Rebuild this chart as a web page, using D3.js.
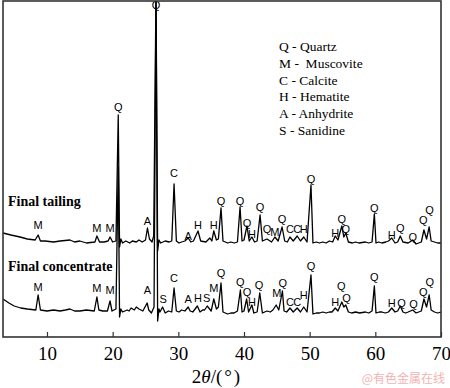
<!DOCTYPE html>
<html>
<head>
<meta charset="utf-8">
<script src="https://cdn.jsdelivr.net/npm/d3@7"></script>
<style>
  body { margin: 0; background: #fff; }
  svg { display: block; }
</style>
</head>
<body>
<div id="chart"></div>
<script>
// x ticks (2theta, degrees)
var xTicks = [10, 20, 30, 40, 50, 60, 70];

// legend lines
var legendItems = ["Q - Quartz", "M -  Muscovite", "C - Calcite", "H - Hematite", "A - Anhydrite", "S - Sanidine"];

// trace names
var seriesNames = ["Final tailing", "Final concentrate"];

// [2theta, intensity]
var tailing = [
  [3.3,104],[4.5,102],[5.9,100],[7.0,98],[8.2,97],[8.65,102],[9.0,96],[9.7,96],[11,95],[12,96],
  [13.5,97],[14.2,95],[15,96],[16,94],[17.3,95],[17.6,101],[18.0,95],[18.7,95],[19.3,96],[19.6,100],
  [20.0,95],[20.5,96],[20.85,222],[21.05,90],[21.25,98],[21.5,94],[22,96],[22.6,94],[23,96],[23.6,95],
  [24,97],[24.5,95],[25.0,97],[25.3,109],[25.6,98],[26.0,95],[26.25,101],[26.6,345],[26.85,86],
  [27.05,97],[27.3,94],[28,96],[28.6,95],[29.0,96],[29.35,153],[29.7,96],[30.1,94],[30.5,95],[31.0,96],
  [31.5,99],[31.9,95],[32.3,96],[33.0,106],[33.4,96],[34.2,95],[34.8,99],[35.1,96],[35.4,106],[35.8,97],
  [36.1,98],[36.5,129],[36.8,96],[37.5,94],[38.0,95],[38.5,94],[39.0,95],[39.4,130],[39.7,96],[40.0,97],
  [40.45,111],[40.8,96],[41.2,100],[41.6,95],[42.0,96],[42.45,122],[42.8,96],[43.5,98],[44.2,95],
  [44.7,100],[45.2,96],[45.8,110],[46.2,96],[46.6,95],[47.0,100],[47.5,96],[48.1,101],[48.6,96],
  [49.1,100],[49.6,95],[50.2,152],[50.5,94],[51.0,95],[51.5,94],[52.0,95],[52.5,94],[53.0,96],[53.5,95],
  [53.9,101],[54.3,97],[54.9,111],[55.2,100],[55.5,104],[55.9,95],[56.5,94],[57.0,95],[57.5,94],
  [58.5,95],[59.0,94],[59.5,95],[59.85,123],[60.1,94],[60.5,95],[61,94],[61.6,95],[62,96],[62.5,99],
  [63,94],[63.4,95],[63.8,101],[64.2,95],[65,94],[65.7,97],[66.2,93],[66.6,94],[67.0,95],[67.4,107],
  [67.8,98],[68.2,110],[68.5,96],[69,95],[69.5,94],[70,94]
];

var concentrate = [
  [3.3,38],[4.2,34],[5.0,31],[6.0,29],[7.0,28],[8.3,27],[8.65,42],[9.0,27],[10,26],[11,27],[12,26],
  [12.8,27],[13.5,28],[14.2,26],[15,26],[16,27],[17.2,26],[17.6,40],[17.9,27],[18.5,26],[19.2,26],
  [19.6,36],[19.9,26],[20.5,28],[20.85,170],[21.05,20],[21.25,28],[21.5,25],[22.2,27],[22.5,26],
  [22.8,29],[23.3,27],[23.6,30],[24,28],[24.6,26],[25.25,34],[25.5,27],[25.9,24],[26.3,30],[26.6,345],
  [26.85,16],[27.05,28],[27.2,25],[27.6,30],[28.0,24],[28.5,26],[29.0,25],[29.35,49],[29.7,26],
  [30.1,25],[30.5,27],[31.0,26],[31.5,30],[31.8,26],[32.2,25],[32.9,31],[33.3,25],[33.7,27],[34.0,27],
  [34.4,31],[35.0,26],[35.4,38],[35.8,28],[36.1,30],[36.5,54],[36.8,25],[37.5,23],[38.0,24],[38.5,24],
  [39.0,26],[39.45,47],[39.7,25],[40.0,26],[40.4,38],[40.7,25],[41.2,32],[41.5,24],[42.0,25],[42.4,44],
  [42.8,24],[43.5,26],[44.0,25],[44.4,27],[44.9,32],[45.3,27],[45.85,46],[46.1,26],[46.5,25],[47.0,29],
  [47.5,25],[48.1,29],[48.6,25],[49.1,30],[49.6,25],[50.2,62],[50.5,23],[51.0,24],[51.5,24],[52.0,25],
  [52.5,24],[53.0,25],[53.4,25],[53.9,29],[54.3,26],[54.9,35],[55.2,30],[55.5,32],[55.9,25],[56.4,24],
  [57,25],[57.6,24],[58.5,25],[59.0,24],[59.5,26],[59.85,51],[60.1,24],[60.6,25],[61,25],[61.5,24],
  [62.0,25],[62.5,29],[63,25],[63.4,26],[63.8,31],[64.2,25],[64.6,24],[65.0,25],[65.7,27],[66.2,24],
  [66.6,25],[67.0,26],[67.4,38],[67.8,30],[68.2,42],[68.5,27],[69,25],[69.5,24],[70,25]
];

// peak labels [2theta, intensity of label centre, phase]
var tailingLabels = [
  [8.65,112,"M"],[17.6,109,"M"],[19.6,109,"M"],[20.85,230,"Q"],[25.3,116,"A"],[26.6,332,"Q"],
  [29.35,164,"C"],[31.5,101,"A"],[33.0,112,"H"],[35.4,112,"H"],[36.5,136,"Q"],[39.4,136,"Q"],
  [40.45,114,"Q"],[41.2,103,"H"],[42.45,130,"Q"],[43.5,108,"Q"],[44.7,105,"M"],[45.8,118,"Q"],
  [47.0,108,"C"],[48.1,108,"C"],[49.1,108,"H"],[50.2,158,"Q"],[53.9,104,"H"],[54.9,118,"Q"],
  [55.5,108,"Q"],[59.85,129,"Q"],[62.5,102,"H"],[63.8,109,"Q"],[65.7,100,"Q"],[67.3,117,"Q"],
  [68.25,127,"Q"]
];

var concentrateLabels = [
  [8.65,50,"M"],[17.6,49,"M"],[19.6,47,"M"],[25.3,47,"A"],[27.7,38,"S"],[29.35,59,"C"],
  [31.5,38,"A"],[33.0,39,"H"],[34.3,39,"S"],[35.4,49,"M"],[36.5,64,"Q"],[39.45,55,"Q"],
  [40.45,45,"Q"],[41.2,35,"H"],[42.3,52,"Q"],[45.0,44,"M"],[45.9,54,"Q"],[47.0,35,"C"],
  [48.1,35,"C"],[49.1,42,"H"],[50.2,71,"Q"],[53.9,35,"H"],[54.8,51,"Q"],[55.6,39,"Q"],
  [59.85,60,"Q"],[62.5,34,"H"],[64.0,34,"Q"],[65.8,33,"Q"],[67.3,45,"Q"],[68.3,55,"Q"]
];

var W = 450, H = 388;
var padL = 3, padR = 441, padT = 1, padB = 337;

var svg = d3.select("#chart").append("svg")
  .attr("width", W).attr("height", H);

var x = d3.scaleLinear().domain([3.3, 70]).range([padL, padR]);
var y = d3.scaleLinear().domain([0, 336]).range([padB, padT]);

svg.append("defs").append("clipPath").attr("id", "plotclip")
  .append("rect").attr("x", padL).attr("y", padT)
  .attr("width", padR - padL).attr("height", padB - padT);

var line = d3.line().x(function(d){ return x(d[0]); }).y(function(d){ return y(d[1]); });

var plot = svg.append("g").attr("clip-path", "url(#plotclip)");
[tailing, concentrate].forEach(function(s){
  plot.append("path").datum(s)
    .attr("d", line)
    .attr("fill", "none")
    .attr("stroke", "#000")
    .attr("stroke-width", 1.3)
    .attr("stroke-linejoin", "round");
});

// peak letters
function drawLabels(arr){
  svg.append("g").selectAll("text").data(arr).enter().append("text")
    .attr("x", function(d){ return x(d[0]); })
    .attr("y", function(d){ return y(d[1]); })
    .attr("text-anchor", "middle")
    .attr("dominant-baseline", "central")
    .style("font-family", "'Liberation Sans', Arial, sans-serif")
    .style("font-size", "11px")
    .text(function(d){ return d[2]; });
}
drawLabels(tailingLabels);
drawLabels(concentrateLabels);

// frame
svg.append("rect")
  .attr("x", padL).attr("y", padT)
  .attr("width", padR - padL).attr("height", padB - padT)
  .attr("fill", "none").attr("stroke", "#333").attr("stroke-width", 1.6);

// bottom axis, ticks pointing inward
var xAxis = d3.axisBottom(x).tickValues(xTicks).tickSizeInner(-5).tickSizeOuter(0).tickPadding(10);
var ax = svg.append("g").attr("transform", "translate(0," + padB + ")").call(xAxis);
ax.select(".domain").remove();
ax.selectAll("line").attr("stroke", "#333").attr("stroke-width", 1.2);
ax.selectAll("text")
  .attr("fill", "#000")
  .style("font-family", "'Liberation Serif', 'Times New Roman', serif")
  .style("font-size", "19px");

// axis title
var title = svg.append("text")
  .attr("x", 216).attr("y", 383)
  .attr("text-anchor", "middle")
  .style("font-family", "'Liberation Serif', 'Times New Roman', serif")
  .style("font-size", "19px");
title.append("tspan").text("2");
title.append("tspan").style("font-style", "italic").text("θ");
title.append("tspan").text("/(");
title.append("tspan").attr("dx", 2).text("°");
title.append("tspan").attr("dx", 2).text(")");

// legend
svg.append("g").selectAll("text").data(legendItems).enter().append("text")
  .attr("x", 279)
  .attr("y", function(d, i){ return 51 + i * 16.8; })
  .style("font-family", "'Liberation Serif', 'Times New Roman', serif")
  .style("font-size", "13.5px")
  .style("white-space", "pre")
  .attr("xml:space", "preserve")
  .text(function(d){ return d; });

// sample names
svg.append("g").selectAll("text").data(seriesNames).enter().append("text")
  .attr("x", 8)
  .attr("y", function(d, i){ return i === 0 ? 206 : 271; })
  .style("font-family", "'Liberation Serif', 'Times New Roman', serif")
  .style("font-size", "14px")
  .style("font-weight", "bold")
  .text(function(d){ return d; });

// watermark
svg.append("text")
  .attr("x", 445).attr("y", 383)
  .attr("text-anchor", "end")
  .attr("fill", "#f2b3b3")
  .style("font-family", "'Noto Sans CJK SC', sans-serif")
  .style("font-size", "12px")
  .text("@有色金属在线");
</script>
</body>
</html>
